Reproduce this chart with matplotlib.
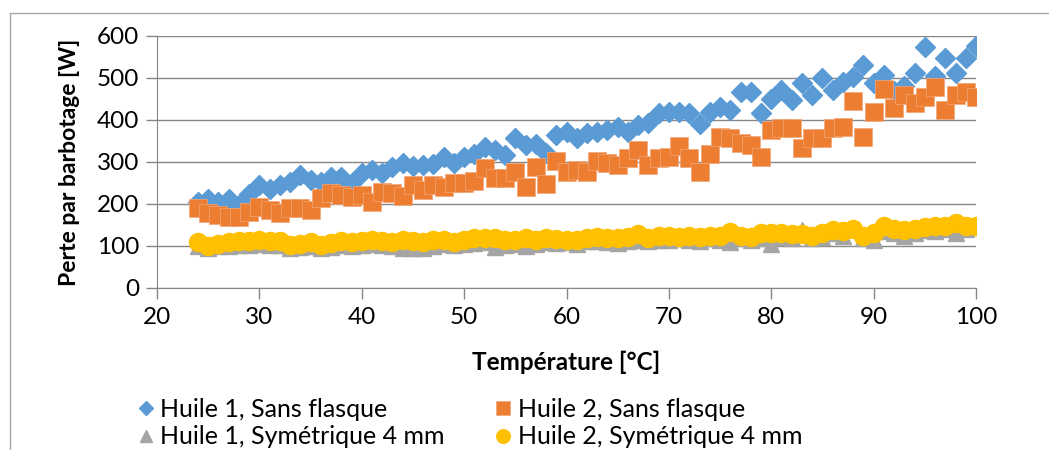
import matplotlib
matplotlib.use('Agg')
import matplotlib.pyplot as plt
from matplotlib.patches import Rectangle

plt.rcParams['font.family'] = ['Lato', 'DejaVu Sans']

temperature = [24, 25, 26, 27, 28, 29, 30, 31, 32, 33, 34, 35, 36, 37, 38, 39,
               40, 41, 42, 43, 44, 45, 46, 47, 48, 49, 50, 51, 52, 53, 54, 55,
               56, 57, 58, 59, 60, 61, 62, 63, 64, 65, 66, 67, 68, 69, 70, 71,
               72, 73, 74, 75, 76, 77, 78, 79, 80, 81, 82, 83, 84, 85, 86, 87,
               88, 89, 90, 91, 92, 93, 94, 95, 96, 97, 98, 99, 100]

huile1_sans = [205, 213, 205, 213, 198, 225, 245, 235, 245, 253, 268, 258, 253, 265, 265, 250,
               273, 281, 275, 289, 297, 290, 293, 295, 313, 298, 313, 320, 335, 329, 317, 356,
               340, 344, 321, 364, 372, 356, 368, 372, 376, 384, 372, 388, 392, 416, 420, 420,
               416, 390, 420, 430, 424, 467, 467, 416, 450, 471, 448, 488, 460, 500, 471, 491,
               503, 531, 488, 507, 470, 480, 513, 574, 505, 547, 513, 548, 576]

huile2_sans = [190, 178, 174, 170, 168, 182, 194, 186, 178, 190, 190, 186, 214, 226, 221, 217,
               221, 205, 229, 226, 218, 245, 233, 245, 241, 249, 251, 255, 285, 262, 261, 277,
               240, 289, 248, 303, 277, 281, 277, 303, 298, 294, 309, 329, 294, 309, 313, 337,
               309, 277, 319, 360, 357, 345, 340, 313, 376, 381, 381, 333, 357, 357, 381, 384,
               445, 360, 420, 474, 428, 460, 440, 455, 479, 424, 459, 467, 455]

huile1_sym = [100, 95, 100, 100, 102, 102, 105, 102, 103, 95, 97, 100, 95, 98, 103, 100,
              102, 105, 102, 100, 95, 95, 95, 100, 105, 102, 105, 108, 110, 98, 102, 105,
              100, 105, 110, 108, 110, 105, 112, 112, 110, 108, 112, 115, 112, 115, 115, 118,
              115, 112, 118, 115, 110, 118, 115, 120, 105, 122, 120, 138, 120, 122, 130, 125,
              140, 120, 115, 135, 130, 125, 130, 138, 135, 140, 130, 140, 145]

huile2_sym = [110, 100, 105, 110, 112, 112, 115, 112, 113, 102, 105, 110, 103, 107, 113, 110,
              112, 115, 112, 110, 115, 112, 110, 115, 115, 110, 115, 118, 120, 118, 115, 115,
              118, 115, 120, 117, 115, 115, 118, 122, 120, 118, 122, 128, 120, 125, 125, 122,
              125, 122, 125, 125, 133, 125, 122, 130, 130, 130, 128, 128, 125, 130, 138, 135,
              140, 125, 130, 148, 140, 138, 140, 145, 148, 148, 155, 148, 148]

fig = plt.figure(figsize=(10.49, 4.5), dpi=100)
ax = fig.add_axes([157 / 1049, 1 - 288 / 450, (976 - 157) / 1049, (288 - 36) / 450])

l1, = ax.plot(temperature, huile1_sans, 'D', color='#5B9BD5', ms=10, mec='#5B9BD5',
              label='Huile 1, Sans flasque')
l2, = ax.plot(temperature, huile2_sans, 's', color='#ED7D31', ms=13.5, mec='#F2A77A', mew=0.5,
              label='Huile 2, Sans flasque')
l3, = ax.plot(temperature, huile1_sym, '^', color='#A5A5A5', ms=12, mec='#A5A5A5',
              label='Huile 1, Symétrique 4 mm')
l4, = ax.plot(temperature, huile2_sym, 'o', color='#FFC000', ms=13, mec='#FFC000',
              label='Huile 2, Symétrique 4 mm')

ax.set_xlim(20, 100)
ax.set_ylim(0, 600)
ax.set_xticks(range(20, 101, 10))
ax.set_yticks(range(0, 601, 100))
ax.yaxis.grid(True, color='#868686', linewidth=1)
ax.set_axisbelow(True)
for s in ['top', 'right']:
    ax.spines[s].set_visible(False)
for s in ['left', 'bottom']:
    ax.spines[s].set_color('#868686')
ax.tick_params(axis='both', color='#868686', length=8, width=1, labelsize=17.5, pad=6)
ax.tick_params(axis='y', pad=5)

ax.set_xlabel('Température [°C]', fontsize=17.5, fontweight='bold', labelpad=16)
ax.set_ylabel('Perte par barbotage [W]', fontsize=16.5, fontweight='bold', labelpad=12)

handles = [l1, l3, l2, l4]
fig.legend(handles, [h.get_label() for h in handles], loc='upper left',
           bbox_to_anchor=(128 / 1049, 1 - 388 / 450), ncol=2,
           frameon=False, fontsize=18, handlelength=0.6, handletextpad=0.3,
           columnspacing=2.0, labelspacing=0.18, markerscale=0.75, borderaxespad=0)

fig.add_artist(Rectangle((10 / 1049, -0.2), 1.2, 1.2 - 13 / 450,
                         transform=fig.transFigure, fill=False, edgecolor='#A6A6A6', lw=1))

fig.savefig('out.png', dpi=100)
